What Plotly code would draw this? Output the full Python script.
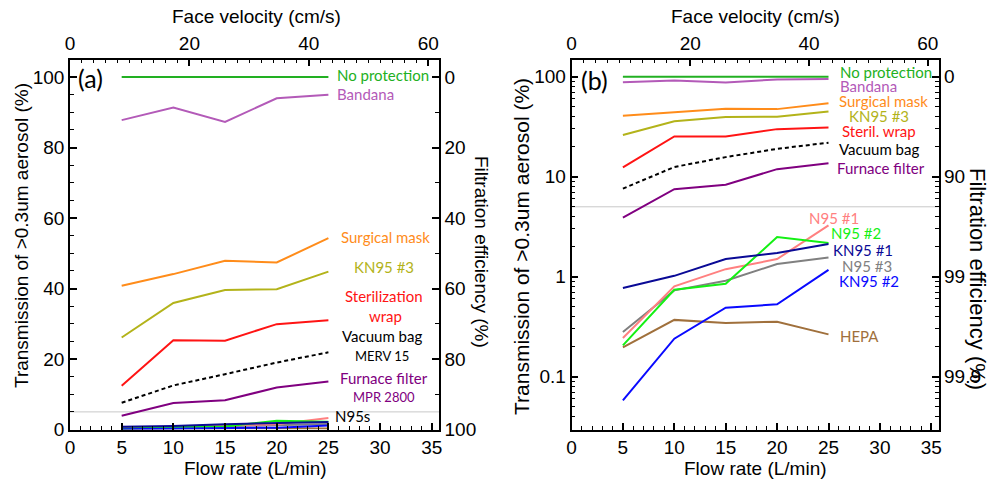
import plotly.graph_objects as go

W, H = 991, 487

flow = [5, 10, 15, 20, 25]

# Transmission (%) of >0.3um aerosol
no_protection = [100, 100, 100, 100, 100]
bandana = [87.8, 91.4, 87.3, 94.0, 95.0]
surgical = [40.8, 44.1, 47.9, 47.4, 54.3]
kn95_3 = [26.1, 35.9, 39.6, 39.8, 44.8]
steril = [12.4, 25.3, 25.2, 29.9, 31.0]
vacuum = [7.6, 12.5, 15.7, 19.0, 21.9]
furnace = [3.9, 7.5, 8.3, 11.9, 13.6]
n95_1 = [0.244, 0.80, 1.19, 1.50, 3.26]
n95_2 = [0.206, 0.74, 0.85, 2.49, 2.17]
kn95_1 = [0.77, 1.02, 1.50, 1.73, 2.12]
n95_3 = [0.28, 0.73, 0.91, 1.34, 1.56]
kn95_2 = [0.058, 0.24, 0.49, 0.53, 1.17]
hepa = [0.196, 0.37, 0.344, 0.355, 0.265]

THRESHOLD = 5

series = [
    ("No protection", no_protection, "#22b022", None),
    ("Bandana", bandana, "#b35ab8", None),
    ("Surgical mask", surgical, "#ff8c1a", None),
    ("KN95 #3", kn95_3, "#b3b31a", None),
    ("Sterilization wrap", steril, "#ff1414", None),
    ("Vacuum bag", vacuum, "#000000", "4px,3px"),
    ("Furnace filter", furnace, "#800080", None),
    ("HEPA", hepa, "#a0703c", None),
    ("N95 #3", n95_3, "#808080", None),
    ("N95 #1", n95_1, "#ff8080", None),
    ("N95 #2", n95_2, "#14f014", None),
    ("KN95 #2", kn95_2, "#0a0aff", None),
    ("KN95 #1", kn95_1, "#0a0a96", None),
]

fig = go.Figure()
for xa, ya in (("x", "y"), ("x2", "y2")):
    for name, vals, color, dash in series:
        fig.add_trace(go.Scatter(
            x=flow, y=vals, mode="lines", name=name, xaxis=xa, yaxis=ya,
            line=dict(color=color, width=2, dash=dash), showlegend=False))
# empty traces to create overlay axes
for xa, ya in (("x3", "y3"), ("x4", "y4")):
    fig.add_trace(go.Scatter(x=[], y=[], xaxis=xa, yaxis=ya, showlegend=False))

TICKFONT = dict(family="Liberation Sans, Arial", size=19, color="black")
common = dict(showline=True, linecolor="black", linewidth=1.5, ticks="inside",
              ticklen=7, tickwidth=1.5, tickcolor="black", showgrid=False,
              zeroline=False, tickfont=TICKFONT, automargin=False)

xa_dom = [70 / W, 439 / W]
xb_dom = [571.5 / W, 938.5 / W]
y_dom = [(H - 429.5) / H, (H - 59.5) / H]

XR = [0, 35.7]
TOPR = [0, 61.8]
minor_lin = lambda d: dict(ticks="inside", ticklen=4, tickwidth=1.2, tickcolor="black", dtick=d, showgrid=False)
minor_log = dict(ticks="inside", ticklen=4, tickwidth=1.2, tickcolor="black", dtick="D1", showgrid=False)

fig.update_layout(
    width=W, height=H, autosize=False,
    margin=dict(l=0, r=0, t=0, b=0, pad=0, autoexpand=False),
    showlegend=False,
    plot_bgcolor="white", paper_bgcolor="white",
    xaxis=dict(domain=xa_dom, anchor="y", range=XR, dtick=5, minor=minor_lin(1), **common),
    yaxis=dict(domain=y_dom, anchor="x", range=[0, 105], dtick=20, minor=minor_lin(5), **common),
    xaxis3=dict(overlaying="x", side="top", anchor="y", range=TOPR, dtick=20, minor=minor_lin(2), **common),
    yaxis3=dict(overlaying="y", side="right", anchor="x", range=[100, -5], dtick=20, minor=minor_lin(10), **common),
    xaxis2=dict(domain=xb_dom, anchor="y2", range=XR, dtick=5, minor=minor_lin(1), **common),
    yaxis2=dict(domain=y_dom, anchor="x2", type="log", range=[-1.528, 2.172], dtick=1,
                minor=minor_log, **common),
    xaxis4=dict(overlaying="x2", side="top", anchor="y2", range=TOPR, dtick=20, minor=minor_lin(2), **common),
    yaxis4=dict(overlaying="y2", side="right", anchor="x2", type="log", range=[-1.528, 2.172], dtick=1,
                labelalias={"100": "0", "10": "90", "1": "99", "0.1": "99.9"},
                minor=minor_log, **common),
)

for yr, xr in (("y", "x"), ("y2", "x2")):
    fig.add_shape(type="line", xref=xr + " domain", x0=0, x1=1, yref=yr, y0=THRESHOLD, y1=THRESHOLD,
                  line=dict(color="#c8c8c8", width=1), layer="below")

def px(x):
    return x / W

def py(y):
    return 1 - y / H

AFONT = "Lato, Open Sans, sans-serif"
TFONT = "Liberation Sans, Arial"

def ann(text, x, y, color="black", size=15, xanchor="left", family=AFONT, angle=0):
    fig.add_annotation(text=text, x=px(x), y=py(y), xref="paper", yref="paper",
                       xanchor=xanchor, yanchor="middle", showarrow=False, textangle=angle,
                       font=dict(family=family, size=size, color=color))

# panel (a) labels
ann("No protection", 335, 75, "#22b022")
ann("Bandana", 335, 94, "#b35ab8")
ann("Surgical mask", 385, 237, "#ff8c1a", xanchor="center")
ann("KN95 #3", 384, 267, "#b3b31a", xanchor="center")
ann("Sterilization", 384, 296, "#ff1414", xanchor="center")
ann("wrap", 385, 316, "#ff1414", xanchor="center")
ann("Vacuum bag", 382, 336, "black", xanchor="center")
ann("MERV 15", 382, 356, "black", size=13, xanchor="center")
ann("Furnace filter", 384, 378, "#800080", xanchor="center")
ann("MPR 2800", 384, 397, "#800080", size=13, xanchor="center")
ann("N95s", 333, 416, "black")
ann("(a)", 76, 78, "black", size=25)

# panel (b) labels
ann("No protection", 838, 72, "#22b022")
ann("Bandana", 838, 86, "#b35ab8")
ann("Surgical mask", 837, 101, "#ff8c1a")
ann("KN95 #3", 847, 116, "#b3b31a")
ann("Steril. wrap", 840, 131, "#ff1414")
ann("Vacuum bag", 837, 149, "black")
ann("Furnace filter", 835, 168, "#800080")
ann("N95 #1", 807, 218, "#ff8080")
ann("N95 #2", 829, 233, "#14f014")
ann("KN95 #1", 831, 250, "#0a0a96")
ann("N95 #3", 840, 266, "#808080")
ann("KN95 #2", 837, 281, "#0a0aff")
ann("HEPA", 838, 336, "#a0703c")
ann("(b)", 579, 80, "black", size=25)

# axis titles
ann("Face velocity (cm/s)", 256, 16, xanchor="center", family=TFONT, size=19)
ann("Face velocity (cm/s)", 755, 16, xanchor="center", family=TFONT, size=19)
ann("Flow rate (L/min)", 255, 468, xanchor="center", family=TFONT, size=19)
ann("Flow rate (L/min)", 755, 468, xanchor="center", family=TFONT, size=19)
ann("Transmission of >0.3um aerosol (%)", 21, 236, xanchor="center", family=TFONT, size=19, angle=-90)
ann("Transmission of >0.3um aerosol (%)", 521, 247, xanchor="center", family=TFONT, size=21, angle=-90)
ann("Filtration efficiency (%)", 482, 252, xanchor="center", family=TFONT, size=19, angle=90)
ann("Filtration efficiency (%)", 978, 279, xanchor="center", family=TFONT, size=22, angle=90)

fig.write_html("out.html")
